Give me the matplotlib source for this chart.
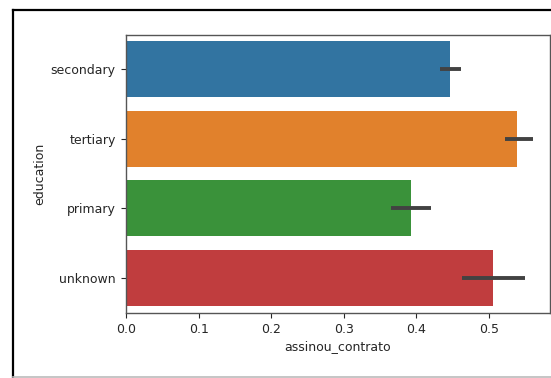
import matplotlib
matplotlib.use("Agg")
import matplotlib.pyplot as plt
from matplotlib.lines import Line2D

# Mean contract rate by education level, with 95% CI bounds
education = ["secondary", "tertiary", "primary", "unknown"]
mean_rate = [0.446, 0.539, 0.393, 0.506]
ci_low = [0.433, 0.522, 0.365, 0.463]
ci_high = [0.462, 0.560, 0.420, 0.549]
colors = ["#3274a1", "#e1812c", "#3a923a", "#c03d3e"]

fig = plt.figure(figsize=(5.51, 3.78), dpi=100)
ax = fig.add_axes([126 / 551, 1 - 312.5 / 378, (550 - 126) / 551, (312.5 - 34.5) / 378])

ypos = list(range(len(education)))
ax.barh(ypos, mean_rate, height=0.8, color=colors, linewidth=0)
ax.hlines(ypos, ci_low, ci_high, color="#424242", linewidth=2.8, zorder=3)

ax.set_ylim(len(education) - 0.5, -0.5)
ax.set_xlim(0, 0.584)
ax.set_yticks(ypos)
ax.set_yticklabels(education)
ax.set_xticks([0.0, 0.1, 0.2, 0.3, 0.4, 0.5])
ax.set_xticklabels(["0.0", "0.1", "0.2", "0.3", "0.4", "0.5"])
ax.set_xlabel("assinou_contrato", fontsize=9, color="#262626", labelpad=3)
ax.set_ylabel("education", fontsize=9, color="#262626", labelpad=3)
ax.tick_params(labelsize=9, colors="#262626", length=3.5, width=0.8, pad=4)
for s in ax.spines.values():
    s.set_color("#555555")
    s.set_linewidth(1.0)

# Frame around the output cell
fig.add_artist(Line2D([12.5 / 551, 1], [1 - 9.5 / 378, 1 - 9.5 / 378],
                      transform=fig.transFigure, color="black", linewidth=1.6))
fig.add_artist(Line2D([12.5 / 551, 12.5 / 551], [0, 1 - 9.5 / 378],
                      transform=fig.transFigure, color="black", linewidth=1.6))
fig.add_artist(Line2D([12.5 / 551, 1], [1 - 377 / 378, 1 - 377 / 378],
                      transform=fig.transFigure, color="#bbbbbb", linewidth=1.2))

fig.savefig("out.png", dpi=100)
